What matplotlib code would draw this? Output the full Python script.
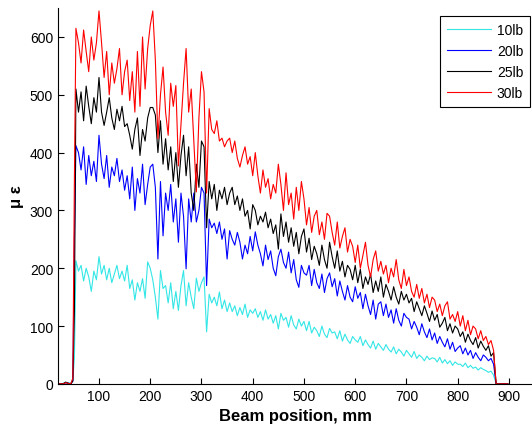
import numpy as np
import matplotlib
matplotlib.use("Agg")
import matplotlib.pyplot as plt

# beam positions (mm): lead-in, main sampled span, tail
x_lead = [20, 25, 30, 35, 40, 45, 49, 52]
x_main = list(range(55, 876, 5))
x_tail = [880, 898]
x_pos = x_lead + x_main + x_tail

labels = ['10lb', '20lb', '25lb', '30lb']

strain_10 = [0, 0, 1, 3, 2, 1, 8, 45,
    213, 195, 205, 178, 200, 185, 160, 195, 180, 220,
    190, 205, 180, 200, 175, 190, 205, 182, 195, 178,
    205, 165, 180, 145, 175, 160, 182, 148, 211, 200,
    180, 150, 112, 196, 165, 170, 140, 175, 130, 160,
    127, 170, 196, 135, 175, 150, 130, 183, 160, 175,
    185, 90, 155, 140, 150, 135, 159, 130, 145, 125,
    140, 125, 135, 118, 132, 120, 138, 115, 128, 122,
    130, 115, 125, 110, 128, 112, 120, 105, 118, 95,
    122, 110, 115, 98, 118, 102, 95, 112, 100, 108,
    92, 108, 88, 98, 92, 82, 100, 86, 80, 96,
    88, 90, 78, 92, 74, 86, 76, 70, 82, 76,
    72, 82, 66, 76, 68, 62, 74, 60, 70, 64,
    58, 68, 60, 55, 64, 52, 60, 55, 48, 58,
    52, 46, 56, 44, 50, 46, 40, 48, 42, 45,
    44, 38, 46, 36, 42, 35, 40, 32, 38, 34,
    34, 30, 36, 28, 32, 27, 29, 24, 28, 25,
    23, 20, 22, 15, 0,
    0, 0]

strain_20 = [0, 0, 0, 2, 1, 0, 5, 250,
    412, 400, 370, 410, 345, 395, 360, 385, 350, 430,
    380, 355, 395, 340, 375, 360, 390, 350, 370, 335,
    360, 320, 375, 300, 355, 330, 380, 310, 345, 375,
    380, 340, 216, 350, 256, 330, 300, 345, 280, 320,
    245, 330, 290, 199, 320, 280, 330, 280, 300, 340,
    330, 170, 285, 270, 278, 260, 280, 250, 268, 216,
    265, 250, 240, 262, 245, 216, 240, 225, 255, 230,
    263, 240, 225, 204, 240, 215, 230, 200, 187, 220,
    233, 210, 200, 228, 192, 215, 180, 167, 205, 192,
    188, 205, 170, 198, 175, 165, 190, 158, 182, 192,
    168, 182, 152, 178, 160, 145, 170, 150, 142, 168,
    148, 158, 130, 155, 135, 120, 145, 112, 138, 142,
    118, 138, 115, 128, 105, 130, 110, 100, 122, 115,
    112, 95, 108, 98, 85, 104, 90, 80, 95, 76,
    88, 70, 82, 72, 64, 78, 60, 72, 56, 62,
    66, 52, 62, 50, 58, 44, 54, 46, 40, 50,
    46, 40, 44, 34, 0,
    0, 0]

strain_25 = [0, 0, 0, 3, 1, 0, 5, 125,
    510, 470, 505, 455, 515, 480, 450, 495, 470, 530,
    470, 447, 470, 495, 460, 440, 475, 455, 480, 445,
    450, 430, 406, 440, 460, 395, 440, 420, 460, 478,
    478, 465, 400, 455, 380, 424, 370, 410, 350, 400,
    340, 395, 430, 360, 410, 330, 300, 380, 340, 420,
    410, 270, 350, 320, 345, 300, 335, 320, 340, 310,
    330, 340, 310, 325, 300, 320, 290, 300, 268, 310,
    300, 275, 290, 280, 297, 270, 285, 260, 275, 233,
    294, 255, 280, 245, 270, 238, 262, 225, 255, 268,
    228, 252, 215, 238, 225, 205, 240, 215, 200, 245,
    220, 200, 230, 195, 212, 185, 205, 198, 180, 205,
    175, 198, 165, 185, 172, 190, 158, 178, 160, 185,
    150, 172, 160, 145, 168, 150, 138, 160, 145, 155,
    140, 148, 125, 142, 130, 118, 135, 122, 108, 126,
    110, 120, 98, 105, 115, 92, 104, 88, 100, 95,
    82, 90, 72, 86, 75, 68, 80, 62, 74, 65,
    58, 66, 48, 54, 0,
    0, 0]

strain_30 = [0, 0, 0, 2, 1, 0, 10, 350,
    615, 590, 555, 612, 575, 540, 600, 560, 590, 645,
    590, 530, 575, 500, 555, 520, 545, 580, 500, 540,
    560, 490, 540, 470, 575, 480, 600, 510, 580, 620,
    645, 560, 424, 500, 548, 470, 430, 520, 480, 516,
    377, 450, 520, 580, 470, 510, 420, 332, 460, 540,
    505, 330, 476, 440, 433, 455, 420, 425, 410, 420,
    425, 400, 420, 390, 375, 395, 410, 380, 393, 360,
    400, 360, 330, 370, 340, 355, 320, 345, 330, 380,
    345, 300, 365, 310, 330, 285, 340, 300, 350, 320,
    275, 305, 262, 290, 300, 258, 280, 250, 295, 290,
    262, 240, 280, 235, 255, 270, 228, 250, 238, 210,
    240, 200, 222, 245, 205, 185, 215, 230, 195, 212,
    190, 205, 175, 200, 185, 215, 180, 165, 198, 170,
    185, 160, 150, 172, 148, 165, 140, 155, 132, 150,
    145, 125, 138, 118, 135, 142, 112, 120, 108, 125,
    100, 118, 92, 110, 85, 100, 95, 78, 92, 75,
    82, 68, 75, 58, 0,
    0, 0]

colors = ['#33e6e6', '#0000ff', 'black', '#ff0000']

plt.rcParams['font.family'] = ['Liberation Sans', 'DejaVu Sans']

fig = plt.figure(figsize=(5.32, 4.31), dpi=100)
ax = fig.add_axes([0.109, 0.107, 0.891, 0.872])

for y, c, lab in zip([strain_10, strain_20, strain_25, strain_30], colors, labels):
    ax.plot(x_pos, y, color=c, linewidth=0.8, label=lab)

ax.set_xlim(20, 945)
ax.set_ylim(0, 650)
ax.set_xticks(range(100, 901, 100))
ax.set_yticks(range(0, 601, 100))
ax.tick_params(direction='in', length=4, labelsize=10, top=False, right=False)
ax.spines['top'].set_visible(False)
ax.spines['right'].set_visible(False)

ax.set_xlabel('Beam position, mm', fontsize=12, fontweight='bold', labelpad=4)
ax.set_ylabel('μ ε', fontsize=12, fontweight='bold', labelpad=4)

leg = ax.legend(loc='upper right', bbox_to_anchor=(0.996, 0.979), borderaxespad=0,
                fontsize=10, fancybox=False, edgecolor='black', framealpha=1,
                handlelength=3.2, handletextpad=0.4, borderpad=0.5)
leg.get_frame().set_linewidth(0.8)

fig.savefig('out.png', dpi=100)
